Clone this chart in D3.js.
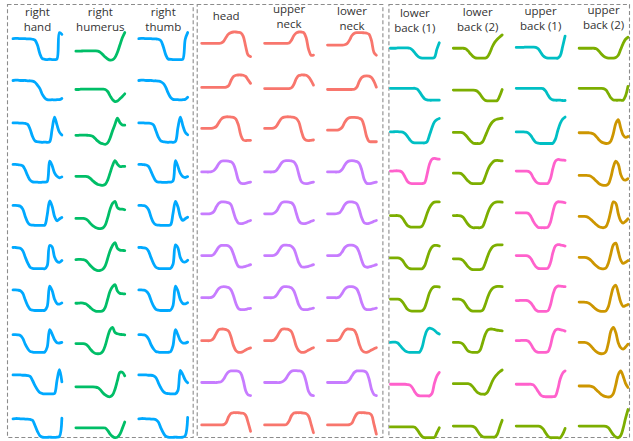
<!DOCTYPE html>
<html><head><meta charset="utf-8">
<script src="https://cdn.jsdelivr.net/npm/d3@7"></script>
<style>body{margin:0;background:#fff}svg{display:block}</style>
</head><body>
<svg id="chart" width="633" height="441"></svg>
<script>
// ---------------- data ----------------
const columns = ["right hand","right humerus","right thumb","head","upper neck","lower neck","lower back (1)","lower back (2)","upper back (1)","upper back (2)"];
const columnLabels = [["right","hand"],["right","humerus"],["right","thumb"],["head"],["upper","neck"],["lower","neck"],["lower","back (1)"],["lower","back (2)"],["upper","back (1)"],["upper","back (2)"]];
const groups = [["right hand","right humerus","right thumb"],["head","upper neck","lower neck"],["lower back (1)","lower back (2)","upper back (1)","upper back (2)"]];
const trials = ["1","2","3","4","5","6","7","8","9","10"];
const timePoints = [0,1,2,3,4,5,6,7,8,9,10,11,12,13,14,15,16,17,18,19,20];
const clusterColors = ["#F8766D","#CD9600","#7CAE00","#00BE67","#00BFC4","#00A9FF","#C77CFF","#FF61CC"];

const clustersRightHand   = [5,5,5,5,5,5,5,5,5,5];
const clustersRightHumerus= [3,3,3,3,3,3,3,3,3,3];
const clustersRightThumb  = [5,5,5,5,5,5,5,5,5,5];
const clustersHead        = [0,0,0,6,6,6,6,0,6,0];
const clustersUpperNeck   = [0,0,0,6,6,6,6,0,6,0];
const clustersLowerNeck   = [0,0,0,6,6,6,6,0,6,0];
const clustersLowerBack1  = [4,4,4,7,2,2,2,4,7,2];
const clustersLowerBack2  = [2,2,2,2,2,2,2,2,2,2];
const clustersUpperBack1  = [4,4,4,7,7,7,7,7,7,2];
const clustersUpperBack2  = [2,2,1,1,1,1,1,1,1,2];

const rightHand = [
[.77,.78,.78,.77,.77,.77,.76,.76,.75,.72,.55,.25,.08,.06,.05,.06,.05,.05,.07,.98,.92],
[.78,.79,.79,.78,.78,.78,.77,.77,.76,.72,.62,.50,.30,.18,.12,.11,.12,.11,.12,.12,.16],
[.77,.77,.77,.76,.76,.75,.72,.55,.30,.15,.12,.11,.10,.11,.10,.12,.55,.97,.70,.45,.35],
[.79,.79,.78,.77,.74,.60,.40,.25,.19,.18,.18,.17,.18,.18,.20,.90,.75,.50,.38,.33,.36],
[.83,.83,.82,.80,.70,.45,.25,.16,.15,.14,.14,.14,.14,.15,.50,.98,.80,.45,.30,.36,.41],
[.83,.83,.82,.80,.72,.50,.30,.15,.11,.10,.10,.10,.10,.10,.20,.90,.85,.50,.35,.32,.38],
[.82,.82,.81,.79,.70,.48,.28,.15,.12,.11,.11,.11,.11,.12,.25,.95,.80,.50,.35,.33,.37],
[.73,.73,.72,.70,.60,.40,.25,.15,.13,.12,.12,.12,.12,.13,.30,.90,.75,.55,.45,.44,.46],
[.79,.79,.79,.79,.78,.78,.77,.74,.60,.42,.28,.18,.15,.14,.14,.14,.14,.15,.60,.97,.55],
[.73,.74,.74,.73,.73,.72,.72,.71,.68,.50,.30,.15,.10,.09,.09,.10,.09,.09,.10,.12,.75]
];
const rightHumerus = [
[.34,.34,.34,.35,.35,.35,.35,.35,.35,.34,.30,.22,.14,.07,.03,.04,.12,.30,.55,.80,.98],
[.47,.47,.48,.48,.48,.48,.48,.48,.48,.48,.48,.48,.47,.40,.25,.12,.05,.07,.15,.23,.32],
[.34,.34,.35,.35,.35,.34,.33,.30,.22,.14,.08,.05,.03,.08,.25,.50,.72,.93,.78,.70,.69],
[.38,.38,.38,.38,.38,.36,.30,.22,.15,.10,.08,.07,.10,.25,.50,.75,.92,.80,.72,.72,.72],
[.38,.38,.38,.38,.36,.30,.20,.12,.07,.04,.03,.05,.15,.40,.70,.90,.97,.75,.70,.70,.68],
[.41,.42,.42,.41,.38,.30,.20,.12,.06,.03,.04,.08,.20,.45,.72,.90,1.0,.80,.74,.73,.72],
[.36,.36,.37,.36,.34,.28,.20,.13,.09,.08,.08,.10,.22,.50,.78,.93,1.0,.78,.70,.69,.68],
[.42,.42,.42,.42,.40,.33,.22,.13,.08,.07,.08,.15,.35,.65,.90,.98,.80,.76,.74,.73,.72],
[.38,.38,.38,.38,.38,.38,.38,.38,.37,.35,.28,.18,.10,.05,.04,.10,.30,.60,.88,.88,.76],
[.42,.42,.42,.42,.42,.42,.42,.42,.42,.42,.42,.42,.41,.33,.20,.12,.08,.10,.20,.40,.62]
];
const rightThumb = [
[.77,.78,.78,.77,.77,.77,.76,.76,.75,.70,.50,.22,.07,.06,.05,.05,.05,.05,.06,.75,.98],
[.78,.79,.79,.78,.78,.78,.77,.77,.76,.74,.68,.55,.35,.20,.13,.12,.12,.11,.12,.13,.20],
[.77,.77,.77,.76,.76,.75,.70,.50,.28,.15,.12,.11,.10,.11,.10,.13,.60,.97,.68,.45,.36],
[.79,.79,.78,.77,.72,.55,.36,.22,.18,.18,.17,.17,.18,.18,.22,.92,.72,.48,.37,.34,.37],
[.83,.83,.82,.79,.68,.43,.24,.16,.15,.14,.14,.14,.14,.16,.55,.97,.78,.44,.31,.37,.42],
[.83,.83,.82,.80,.70,.48,.28,.15,.11,.10,.10,.10,.10,.11,.25,.92,.82,.48,.34,.33,.39],
[.82,.82,.81,.78,.68,.46,.27,.15,.12,.11,.11,.11,.11,.12,.28,.95,.78,.48,.35,.34,.38],
[.73,.73,.72,.69,.58,.38,.24,.15,.13,.12,.12,.12,.12,.14,.35,.90,.72,.52,.44,.44,.47],
[.79,.79,.79,.79,.78,.78,.76,.70,.52,.35,.22,.16,.15,.14,.14,.14,.25,.95,.80,.62,.52],
[.73,.74,.74,.73,.73,.72,.72,.70,.62,.42,.25,.13,.10,.09,.09,.10,.09,.09,.10,.15,.78]
];
const head = [
[.61,.61,.61,.61,.61,.61,.61,.61,.62,.68,.82,.93,.98,1.0,1.0,.99,.97,.85,.50,.20,.15],
[.54,.54,.54,.54,.54,.54,.54,.54,.54,.54,.55,.60,.78,.92,.96,.97,.97,.96,.92,.80,.68],
[.58,.58,.58,.58,.58,.60,.65,.78,.90,.96,.98,.98,.97,.96,.90,.70,.35,.18,.16,.17,.17],
[.53,.53,.53,.53,.54,.58,.68,.82,.90,.91,.91,.90,.88,.80,.55,.25,.14,.13,.14,.16,.18],
[.54,.54,.54,.54,.56,.62,.78,.90,.95,.95,.94,.92,.85,.60,.35,.22,.20,.21,.24,.28,.31],
[.55,.55,.55,.55,.55,.60,.72,.85,.90,.90,.90,.88,.80,.60,.35,.18,.15,.16,.18,.21,.24],
[.55,.55,.55,.55,.56,.62,.75,.87,.92,.93,.92,.90,.82,.62,.35,.18,.14,.14,.15,.17,.18],
[.52,.52,.52,.52,.54,.62,.78,.90,.92,.92,.90,.85,.65,.35,.18,.12,.12,.15,.20,.24,.27],
[.53,.53,.53,.53,.53,.53,.53,.54,.56,.65,.80,.90,.93,.93,.93,.92,.85,.60,.25,.10,.08],
[.52,.52,.52,.52,.52,.52,.52,.52,.52,.53,.60,.80,.92,.94,.94,.94,.93,.92,.85,.60,.30]
];
const upperNeck = [
[.61,.61,.61,.61,.61,.61,.61,.61,.61,.61,.62,.72,.88,.97,1.0,1.0,.98,.80,.40,.20,.20],
[.50,.50,.50,.50,.50,.50,.50,.50,.50,.50,.50,.53,.65,.85,.95,.97,.97,.96,.90,.78,.62],
[.58,.58,.58,.58,.60,.68,.82,.93,.97,.98,.98,.97,.96,.92,.80,.50,.25,.17,.16,.17,.18],
[.53,.53,.53,.53,.54,.60,.72,.85,.91,.92,.92,.91,.88,.75,.45,.20,.14,.13,.14,.16,.18],
[.54,.54,.54,.54,.57,.65,.80,.92,.95,.95,.94,.92,.82,.55,.30,.21,.20,.21,.24,.28,.31],
[.55,.55,.55,.55,.56,.62,.75,.87,.91,.91,.90,.87,.78,.55,.30,.17,.15,.16,.18,.21,.24],
[.55,.55,.55,.55,.57,.65,.78,.89,.93,.93,.92,.89,.78,.55,.30,.17,.14,.14,.15,.17,.19],
[.52,.52,.52,.52,.55,.65,.80,.91,.93,.92,.90,.83,.60,.32,.17,.12,.12,.15,.20,.24,.28],
[.53,.53,.53,.53,.53,.53,.53,.55,.60,.70,.84,.92,.94,.94,.93,.92,.82,.55,.22,.10,.08],
[.52,.52,.52,.52,.52,.52,.52,.52,.52,.54,.65,.84,.93,.94,.94,.94,.93,.91,.82,.55,.25]
];
const lowerNeck = [
[.55,.55,.55,.55,.55,.55,.55,.56,.60,.72,.88,.96,.98,.98,.98,.97,.96,.92,.70,.30,.20],
[.47,.47,.47,.47,.47,.47,.47,.47,.47,.47,.47,.48,.55,.75,.88,.93,.94,.93,.88,.75,.55],
[.52,.52,.52,.52,.52,.55,.62,.78,.90,.95,.96,.96,.95,.93,.88,.65,.30,.13,.12,.12,.12],
[.53,.53,.53,.53,.53,.55,.62,.76,.87,.91,.92,.91,.89,.82,.60,.28,.14,.13,.14,.16,.18],
[.54,.54,.54,.54,.55,.58,.70,.85,.93,.95,.95,.93,.88,.68,.40,.23,.20,.21,.24,.28,.31],
[.55,.55,.55,.55,.55,.58,.68,.82,.89,.91,.91,.89,.83,.65,.38,.19,.15,.16,.18,.21,.24],
[.55,.55,.55,.55,.55,.59,.70,.84,.91,.93,.93,.91,.85,.66,.38,.19,.14,.14,.15,.17,.19],
[.52,.52,.52,.52,.53,.58,.72,.86,.92,.92,.91,.87,.70,.40,.20,.13,.12,.15,.20,.24,.28],
[.53,.53,.53,.53,.53,.53,.53,.53,.55,.62,.76,.88,.93,.93,.93,.92,.87,.65,.30,.12,.08],
[.52,.52,.52,.52,.52,.52,.52,.52,.52,.53,.58,.76,.90,.94,.94,.94,.93,.92,.86,.55,.20]
];
const lowerBack1 = [
[.44,.44,.44,.45,.45,.45,.45,.45,.44,.38,.28,.18,.12,.10,.10,.10,.10,.10,.12,.40,.63],
[.51,.51,.51,.51,.51,.51,.51,.51,.51,.51,.51,.48,.38,.25,.15,.11,.10,.10,.10,.10,.10],
[.46,.46,.47,.47,.46,.45,.40,.30,.18,.10,.08,.08,.08,.08,.08,.12,.35,.60,.80,.88,.92],
[.56,.56,.57,.57,.56,.50,.35,.20,.14,.13,.13,.13,.13,.13,.16,.45,.80,.97,1.0,.98,.97],
[.48,.48,.48,.48,.46,.38,.25,.13,.09,.08,.08,.08,.08,.12,.30,.55,.75,.88,.94,.95,.95],
[.47,.47,.47,.47,.45,.38,.25,.15,.10,.09,.09,.09,.09,.10,.20,.45,.70,.85,.90,.90,.88],
[.50,.50,.50,.50,.48,.40,.27,.15,.10,.09,.09,.09,.09,.10,.20,.45,.72,.87,.93,.93,.92],
[.46,.47,.47,.44,.35,.25,.17,.13,.12,.12,.12,.12,.13,.30,.65,.88,.95,.93,.88,.80,.75],
[.47,.47,.47,.47,.47,.47,.47,.46,.44,.35,.20,.10,.07,.07,.07,.07,.07,.15,.50,.75,.88],
[.45,.45,.45,.45,.45,.45,.45,.45,.45,.45,.44,.35,.22,.12,.08,.08,.08,.08,.09,.25,.42]
];
const lowerBack2 = [
[.44,.44,.44,.44,.44,.42,.35,.25,.16,.11,.10,.10,.10,.10,.15,.30,.50,.65,.75,.83,.90],
[.45,.45,.45,.45,.45,.45,.45,.45,.45,.44,.40,.30,.18,.10,.08,.08,.08,.08,.09,.25,.47],
[.44,.44,.44,.44,.42,.35,.25,.15,.08,.06,.06,.06,.12,.30,.50,.68,.80,.87,.90,.92,.93],
[.49,.49,.49,.48,.42,.32,.22,.15,.13,.13,.13,.13,.16,.35,.58,.75,.86,.92,.93,.92,.91],
[.48,.48,.48,.47,.42,.30,.18,.10,.06,.06,.06,.06,.10,.30,.55,.75,.87,.93,.95,.95,.94],
[.44,.44,.44,.43,.38,.28,.17,.10,.07,.07,.07,.07,.10,.28,.52,.72,.85,.90,.92,.92,.92],
[.50,.50,.50,.49,.44,.33,.20,.12,.09,.09,.09,.09,.12,.30,.55,.75,.87,.92,.94,.94,.93],
[.46,.46,.46,.45,.40,.28,.17,.13,.12,.12,.12,.20,.45,.72,.88,.92,.92,.90,.88,.87,.86],
[.49,.49,.49,.49,.49,.49,.49,.46,.38,.27,.18,.14,.13,.13,.20,.38,.58,.72,.82,.90,.96],
[.48,.48,.48,.48,.48,.48,.48,.48,.47,.42,.30,.18,.11,.10,.10,.10,.10,.10,.20,.45,.68]
];
const upperBack1 = [
[.47,.47,.47,.47,.48,.48,.48,.48,.47,.42,.30,.18,.12,.10,.10,.10,.10,.10,.18,.50,.86],
[.51,.51,.51,.51,.51,.51,.51,.51,.51,.51,.51,.50,.42,.28,.16,.11,.10,.10,.10,.09,.09],
[.46,.46,.46,.46,.45,.42,.33,.20,.10,.07,.06,.06,.06,.06,.06,.07,.20,.50,.75,.90,.97],
[.56,.56,.56,.56,.56,.55,.48,.32,.20,.14,.13,.13,.13,.14,.30,.65,.90,.96,.95,.94,.93],
[.57,.57,.57,.57,.57,.55,.45,.28,.15,.07,.06,.06,.06,.08,.25,.60,.88,.95,.95,.94,.92],
[.55,.55,.55,.55,.55,.53,.45,.30,.17,.11,.10,.10,.10,.12,.30,.65,.88,.93,.92,.90,.88],
[.45,.45,.46,.46,.46,.44,.37,.25,.13,.08,.08,.08,.08,.10,.30,.65,.88,.95,.95,.94,.93],
[.52,.52,.53,.53,.53,.50,.40,.25,.15,.12,.12,.12,.12,.14,.35,.70,.88,.92,.90,.88,.85],
[.47,.47,.47,.47,.47,.47,.47,.45,.35,.22,.10,.05,.04,.04,.04,.04,.06,.30,.65,.85,.93],
[.48,.48,.48,.48,.48,.48,.48,.48,.48,.48,.46,.38,.25,.13,.08,.08,.08,.08,.08,.20,.40]
];
const upperBack2 = [
[.44,.44,.44,.44,.44,.44,.44,.42,.35,.25,.17,.12,.10,.10,.10,.12,.20,.40,.60,.75,.82],
[.51,.51,.51,.51,.51,.51,.51,.51,.51,.51,.50,.45,.32,.18,.11,.10,.10,.10,.10,.25,.58],
[.43,.43,.43,.43,.43,.42,.38,.30,.20,.12,.08,.06,.07,.15,.40,.75,.88,.60,.35,.27,.30],
[.41,.41,.41,.41,.40,.37,.30,.22,.14,.09,.07,.07,.12,.35,.70,.90,.80,.45,.28,.25,.30],
[.45,.45,.45,.44,.40,.33,.25,.17,.10,.07,.06,.10,.30,.65,.95,.90,.55,.30,.22,.28,.37],
[.49,.49,.49,.48,.44,.37,.28,.20,.13,.10,.09,.12,.30,.62,.92,.98,.70,.40,.28,.32,.38],
[.40,.40,.40,.39,.36,.30,.22,.15,.10,.08,.08,.10,.25,.60,.90,.98,.72,.40,.25,.28,.32],
[.46,.46,.46,.45,.40,.32,.22,.14,.09,.07,.08,.15,.45,.85,.98,.80,.45,.28,.23,.30,.40],
[.41,.41,.41,.41,.41,.40,.36,.28,.20,.12,.07,.04,.03,.05,.15,.45,.80,.93,.75,.50,.36],
[.48,.48,.48,.48,.48,.48,.48,.48,.48,.48,.48,.47,.42,.30,.18,.10,.08,.15,.40,.75,1.05]
];

const seriesByColumn = [rightHand,rightHumerus,rightThumb,head,upperNeck,lowerNeck,lowerBack1,lowerBack2,upperBack1,upperBack2];
const clustersByColumn = [clustersRightHand,clustersRightHumerus,clustersRightThumb,clustersHead,clustersUpperNeck,clustersLowerNeck,clustersLowerBack1,clustersLowerBack2,clustersUpperBack1,clustersUpperBack2];

// ---------------- layout ----------------
const svg = d3.select("#chart");
const colScale = d3.scaleBand().domain(columns).range([13, 628]).paddingInner(0.223);
const rowScale = d3.scaleBand().domain(trials).range([32, 440]).paddingInner(0.311);
const xInner = d3.scaleLinear().domain([0, 20]).range([0, colScale.bandwidth()]);
const yInner = d3.scaleLinear().domain([0, 1]).range([rowScale.bandwidth(), 0]);
const color = d3.scaleOrdinal().domain(d3.range(clusterColors.length)).range(clusterColors);
const line = d3.line()
  .x((d, i) => xInner(timePoints[i]))
  .y(d => yInner(d))
  .curve(d3.curveCatmullRom.alpha(0.5));

// dashed group boxes
const boxPad = [[6,5],[5,6],[2,1]];
groups.forEach((g, gi) => {
  const x0 = colScale(g[0]) - boxPad[gi][0];
  const x1 = colScale(g[g.length-1]) + colScale.bandwidth() + boxPad[gi][1];
  svg.append("rect")
    .attr("x", x0 + 0.5).attr("y", 4.5)
    .attr("width", x1 - x0).attr("height", 433)
    .attr("fill", "none").attr("stroke", "#8c8c8c")
    .attr("stroke-width", 1.1).attr("stroke-dasharray", "4,2.5");
});

// column labels (each line its own text element)
const labelTop = [16,16,16,20,13,15,17,16,15,14];
columns.forEach((c, ci) => {
  columnLabels[ci].forEach((s, li) => {
    svg.append("text")
      .attr("x", colScale(c) + colScale.bandwidth()/2)
      .attr("y", labelTop[ci] + li * 15)
      .attr("text-anchor", "middle")
      .attr("font-family", "'Open Sans', sans-serif")
      .attr("font-size", 11.5)
      .attr("fill", "#333")
      .text(s);
  });
});

// sparklines
columns.forEach((c, ci) => {
  const g = svg.append("g").attr("transform", `translate(${colScale(c)},0)`);
  trials.forEach((r, ri) => {
    g.append("path")
      .attr("transform", `translate(0,${rowScale(r)})`)
      .attr("d", line(seriesByColumn[ci][ri]))
      .attr("fill", "none")
      .attr("stroke", color(clustersByColumn[ci][ri]))
      .attr("stroke-width", 2.8)
      .attr("stroke-linecap", "round")
      .attr("stroke-linejoin", "round");
  });
});
</script>
</body></html>
